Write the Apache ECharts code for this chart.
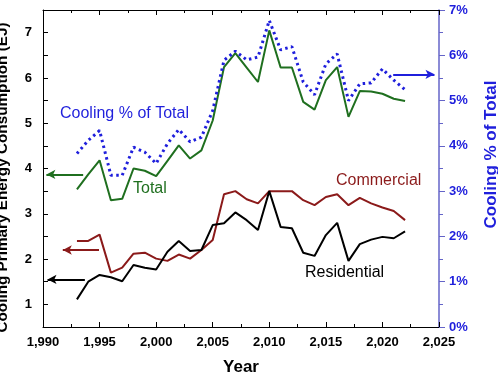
<!DOCTYPE html>
<html>
<head>
<meta charset="utf-8">
<script src="https://cdn.jsdelivr.net/npm/echarts@6/dist/echarts.min.js"></script>
<style>
  html, body { margin: 0; padding: 0; background: #fff; }
  #chart { width: 498px; height: 381px; }
</style>
</head>
<body>
<div id="chart"></div>
<script>
// years
var years = [1993, 1994, 1995, 1996, 1997, 1998, 1999, 2000, 2001, 2002, 2003, 2004, 2005, 2006, 2007,
  2008, 2009, 2010, 2011, 2012, 2013, 2014, 2015, 2016, 2017, 2018, 2019, 2020, 2021, 2022];
// EJ
var total = [3.54, 3.87, 4.18, 3.30, 3.33, 4.00, 3.95, 3.83, 4.17, 4.51, 4.22, 4.40, 5.06, 6.24, 6.55,
  6.23, 5.91, 7.05, 6.23, 6.23, 5.47, 5.30, 5.95, 6.24, 5.14, 5.71, 5.70, 5.65, 5.54, 5.49];
var commercial = [2.40, 2.40, 2.54, 1.70, 1.81, 2.12, 2.14, 2.01, 1.96, 2.10, 2.01, 2.20, 2.42, 3.43, 3.50,
  3.32, 3.23, 3.50, 3.50, 3.50, 3.30, 3.19, 3.37, 3.43, 3.19, 3.35, 3.23, 3.14, 3.06, 2.86];
var residential = [1.11, 1.50, 1.65, 1.60, 1.51, 1.87, 1.81, 1.77, 2.16, 2.40, 2.18, 2.20, 2.75, 2.79, 3.03,
  2.86, 2.64, 3.50, 2.71, 2.68, 2.14, 2.07, 2.53, 2.80, 1.96, 2.33, 2.43, 2.49, 2.46, 2.61];
// % of total
var coolingPct = [3.83, 4.12, 4.34, 3.35, 3.35, 3.97, 3.86, 3.61, 4.05, 4.36, 4.09, 4.19, 4.78, 5.89, 6.09,
  5.90, 5.96, 6.77, 6.12, 6.19, 5.41, 5.13, 5.81, 6.03, 5.00, 5.37, 5.39, 5.70, 5.45, 5.24];

function pairs(vals) {
  return years.map(function (y, i) { return [y, vals[i]]; });
}

var font = 'Liberation Sans, Arial, sans-serif';
var blue = '#1f1fdc';
var green = '#1f6f1f';
var red = '#8b1a1a';

// arrow pointing from the curve to its axis
function arrow(x1, x2, v, color) {
  return {
    silent: true,
    symbol: ['none', 'arrow'],
    symbolSize: [7, 9],
    label: { show: false },
    lineStyle: { color: color, width: 2, type: 'solid' },
    emphasis: { disabled: true },
    data: [[{ coord: [x1, v] }, { coord: [x2, v] }]]
  };
}

var chart = echarts.init(document.getElementById('chart'));
chart.setOption({
  animation: false,
  grid: { left: 43, right: 59, top: 10, bottom: 54, containLabel: false, outerBoundsMode: 'none' },
  xAxis: [{
    type: 'value', min: 1990, max: 2025, interval: 5,
    name: 'Year', nameLocation: 'middle', nameGap: 32, nameMoveOverlap: false,
    nameTextStyle: { fontFamily: font, fontWeight: 'bold', fontSize: 17, color: '#000' },
    axisLine: { show: true, lineStyle: { color: '#000', width: 1 } },
    axisTick: { show: true, inside: true, length: 5, lineStyle: { color: '#000' } },
    minorTick: { show: true, splitNumber: 2, length: 3, lineStyle: { color: '#000' } },
    axisLabel: { fontFamily: font, fontWeight: 'bold', fontSize: 13, color: '#000', margin: 9 },
    splitLine: { show: false }
  }, {
    type: 'value', position: 'top', min: 1990, max: 2025, interval: 5,
    axisLine: { show: true, lineStyle: { color: '#000', width: 1 } },
    axisTick: { show: true, inside: true, length: 5, lineStyle: { color: '#000' } },
    minorTick: { show: true, splitNumber: 2, length: 3, lineStyle: { color: '#000' } },
    axisLabel: { show: false },
    splitLine: { show: false }
  }],
  yAxis: [{
    type: 'value', min: 0.5, max: 7.5, interval: 0.5,
    name: 'Cooling Primary Energy Consumption (EJ)', nameLocation: 'middle', nameGap: 33,
    nameMoveOverlap: false,
    nameTextStyle: { fontFamily: font, fontWeight: 'bold', fontSize: 15.3, color: '#000', padding: [0, 18, 0, 0] },
    axisLine: { show: true, lineStyle: { color: '#000', width: 1 } },
    axisTick: { show: true, inside: true, length: 5, lineStyle: { color: '#000' } },
    axisLabel: {
      fontFamily: font, fontWeight: 'bold', fontSize: 13, color: '#000', margin: 11,
      formatter: function (v) { return v % 1 === 0 ? String(v) : ''; }
    },
    splitLine: { show: false }
  }, {
    type: 'value', position: 'right', min: 0, max: 7, interval: 1,
    name: 'Cooling % of Total', nameLocation: 'middle', nameGap: 44, nameMoveOverlap: false,
    nameTextStyle: { fontFamily: font, fontWeight: 'bold', fontSize: 17, color: blue, padding: [0, 0, 0, 28] },
    axisLine: { show: true, lineStyle: { color: '#6464c8', width: 1.5 } },
    axisTick: { show: true, inside: false, length: 6, lineStyle: { color: '#6464c8' } },
    minorTick: { show: true, splitNumber: 2, length: 4, lineStyle: { color: '#6464c8' } },
    axisLabel: { fontFamily: font, fontWeight: 'bold', fontSize: 13, color: blue, margin: 10,
      formatter: '{value}%' },
    splitLine: { show: false }
  }],
  series: [{
    name: 'Total', type: 'line', yAxisIndex: 0, data: pairs(total),
    symbol: 'none', lineStyle: { color: green, width: 2 },
    markLine: arrow(1993.55, 1990.3, 3.87, green)
  }, {
    name: 'Commercial', type: 'line', yAxisIndex: 0, data: pairs(commercial),
    symbol: 'none', lineStyle: { color: red, width: 2 },
    markLine: arrow(1994.95, 1991.75, 2.20, red)
  }, {
    name: 'Residential', type: 'line', yAxisIndex: 0, data: pairs(residential),
    symbol: 'none', lineStyle: { color: '#000', width: 2 },
    markLine: arrow(1993.7, 1990.4, 1.55, '#000')
  }, {
    name: 'Cooling % of Total', type: 'line', yAxisIndex: 1, data: pairs(coolingPct),
    symbol: 'none', lineStyle: { color: blue, width: 3, type: [2.5, 3.5] },
    markLine: arrow(2020.95, 2024.6, 5.58, blue)
  }],
  graphic: [
    { type: 'text', left: 60, top: 106, style: { text: 'Cooling % of Total', fill: blue, font: '16px ' + font } },
    { type: 'text', left: 133, top: 181, style: { text: 'Total', fill: green, font: '16px ' + font } },
    { type: 'text', left: 336, top: 173, style: { text: 'Commercial', fill: red, font: '16px ' + font } },
    { type: 'text', left: 305, top: 265, style: { text: 'Residential', fill: '#000', font: '16px ' + font } }
  ]
});
</script>
</body>
</html>
